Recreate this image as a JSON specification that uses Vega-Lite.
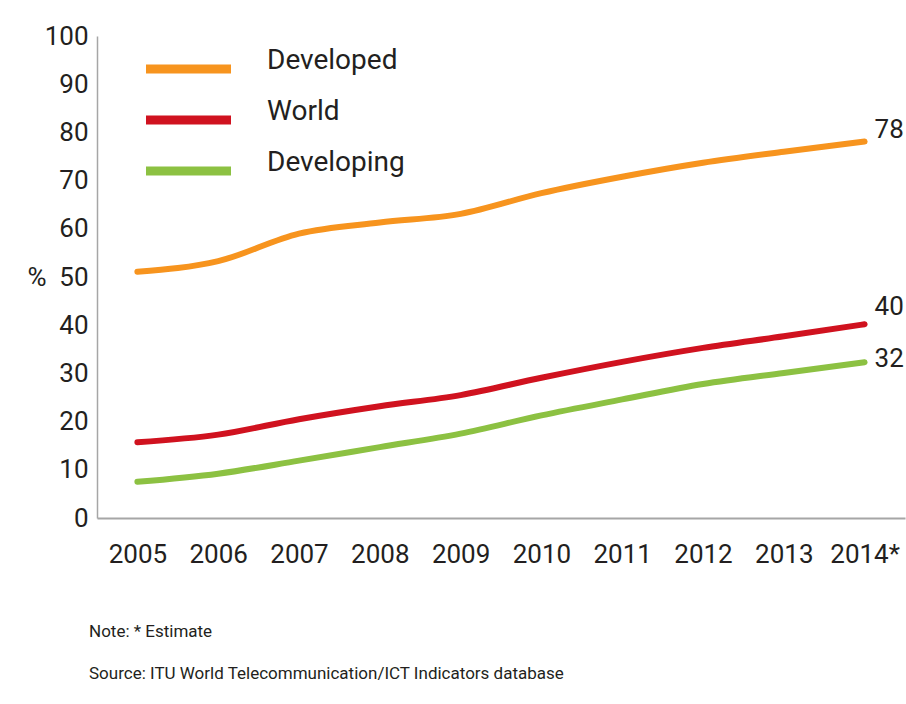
{
  "$schema": "https://vega.github.io/schema/vega-lite/v6.json",
  "width": 808,
  "height": 482,
  "autosize": "none",
  "padding": {"left": 97, "top": 36, "right": 1, "bottom": 186},
  "background": "white",
  "config": {
    "view": {"stroke": null},
    "font": "Roboto, Liberation Sans, sans-serif"
  },
  "title": {
    "text": ["Note: * Estimate", "Source: ITU World Telecommunication/ICT Indicators database"],
    "orient": "bottom",
    "anchor": "start",
    "frame": "group",
    "dx": -8,
    "offset": 57,
    "fontSize": 17,
    "fontWeight": "normal",
    "lineHeight": 42,
    "color": "#231f20"
  },
  "data": {
    "values": [
      {"year": "2005", "series": "Developed", "value": 51.1},
      {"year": "2006", "series": "Developed", "value": 53.3},
      {"year": "2007", "series": "Developed", "value": 59.0},
      {"year": "2008", "series": "Developed", "value": 61.3},
      {"year": "2009", "series": "Developed", "value": 63.1},
      {"year": "2010", "series": "Developed", "value": 67.4},
      {"year": "2011", "series": "Developed", "value": 70.8},
      {"year": "2012", "series": "Developed", "value": 73.7},
      {"year": "2013", "series": "Developed", "value": 76.0},
      {"year": "2014*", "series": "Developed", "value": 78.1},
      {"year": "2005", "series": "World", "value": 15.7},
      {"year": "2006", "series": "World", "value": 17.3},
      {"year": "2007", "series": "World", "value": 20.5},
      {"year": "2008", "series": "World", "value": 23.2},
      {"year": "2009", "series": "World", "value": 25.5},
      {"year": "2010", "series": "World", "value": 29.1},
      {"year": "2011", "series": "World", "value": 32.4},
      {"year": "2012", "series": "World", "value": 35.3},
      {"year": "2013", "series": "World", "value": 37.7},
      {"year": "2014*", "series": "World", "value": 40.2},
      {"year": "2005", "series": "Developing", "value": 7.5},
      {"year": "2006", "series": "Developing", "value": 9.2},
      {"year": "2007", "series": "Developing", "value": 11.9},
      {"year": "2008", "series": "Developing", "value": 14.7},
      {"year": "2009", "series": "Developing", "value": 17.5},
      {"year": "2010", "series": "Developing", "value": 21.3},
      {"year": "2011", "series": "Developing", "value": 24.6},
      {"year": "2012", "series": "Developing", "value": 27.8},
      {"year": "2013", "series": "Developing", "value": 30.1},
      {"year": "2014*", "series": "Developing", "value": 32.3}
    ]
  },
  "encoding": {
    "x": {
      "field": "year",
      "type": "ordinal",
      "sort": null,
      "scale": {"type": "point", "padding": 0.5},
      "axis": {
        "title": null,
        "labelAngle": 0,
        "ticks": false,
        "labelFontSize": 26,
        "labelColor": "#231f20",
        "labelPadding": 23,
        "domainColor": "#a6a6a6",
        "domainWidth": 2,
        "grid": false
      }
    },
    "y": {
      "field": "value",
      "type": "quantitative",
      "scale": {"domain": [0, 100], "nice": false},
      "axis": {
        "title": "%",
        "titleAngle": 0,
        "titleX": -70,
        "titleY": 241,
        "titleAlign": "left",
        "titleBaseline": "middle",
        "titleFontSize": 26,
        "titleFontWeight": "normal",
        "titleColor": "#231f20",
        "values": [0, 10, 20, 30, 40, 50, 60, 70, 80, 90, 100],
        "ticks": false,
        "grid": false,
        "labelFontSize": 26,
        "labelColor": "#231f20",
        "labelPadding": 9,
        "domainColor": "#a6a6a6",
        "domainWidth": 1.5
      }
    }
  },
  "layer": [
    {
      "mark": {"type": "line", "strokeWidth": 6, "interpolate": "monotone", "strokeCap": "round"},
      "encoding": {
        "color": {
          "field": "series",
          "type": "nominal",
          "scale": {"domain": ["Developed", "World", "Developing"], "range": ["#F7941E", "#D0121F", "#8CC142"]},
          "legend": {
            "title": null,
            "orient": "none",
            "legendX": 77,
            "legendY": 18.5,
            "padding": 0,
            "symbolType": "M-4.25,0H4.25",
            "symbolSize": 400,
            "symbolStrokeWidth": 9,
            "labelFontSize": 28,
            "labelLimit": 0,
            "labelColor": "#231f20",
            "labelOffset": 64,
            "labelBaseline": "alphabetic",
            "rowPadding": 10
          }
        }
      }
    },
    {
      "transform": [{"filter": "datum.year == '2014*' && datum.series == 'Developed'"}],
      "mark": {"type": "text", "align": "left", "baseline": "middle", "dx": 10, "dy": -12, "fontSize": 26, "color": "#231f20"},
      "encoding": {"text": {"field": "value", "type": "quantitative", "format": ".0f"}}
    },
    {
      "transform": [{"filter": "datum.year == '2014*' && datum.series == 'World'"}],
      "mark": {"type": "text", "align": "left", "baseline": "middle", "dx": 10, "dy": -17, "fontSize": 26, "color": "#231f20"},
      "encoding": {"text": {"field": "value", "type": "quantitative", "format": ".0f"}}
    },
    {
      "transform": [{"filter": "datum.year == '2014*' && datum.series == 'Developing'"}],
      "mark": {"type": "text", "align": "left", "baseline": "middle", "dx": 10, "dy": -3, "fontSize": 26, "color": "#231f20"},
      "encoding": {"text": {"field": "value", "type": "quantitative", "format": ".0f"}}
    }
  ]
}
